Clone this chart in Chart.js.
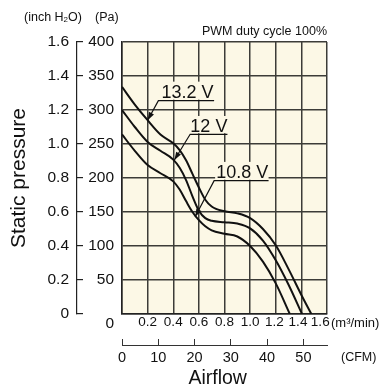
<!DOCTYPE html>
<html><head><meta charset="utf-8">
<script src="https://cdn.jsdelivr.net/npm/chart.js@4/dist/chart.umd.min.js"></script>
<style>html,body{margin:0;padding:0;background:#fff;}#wrap{width:391px;height:390px;}</style>
</head><body><div id="wrap"><canvas id="c" width="391" height="390"></canvas></div>
<script>
// ---- data ----
const flowTicks = [0, 0.2, 0.4, 0.6, 0.8, 1.0, 1.2, 1.4, 1.6];      // m3/min
const cfmTicks = [0, 10, 20, 30, 40, 50];                            // CFM
const paTicks = [0, 50, 100, 150, 200, 250, 300, 350, 400];          // Pa
const inchTicks = [0, 0.2, 0.4, 0.6, 0.8, 1.0, 1.2, 1.4, 1.6];       // inch H2O
const seriesNames = ['13.2 V', '12 V', '10.8 V'];

const flow132 = [0, 0.1, 0.2, 0.3, 0.4, 0.45, 0.5, 0.55, 0.6, 0.65, 0.7, 0.8, 0.9, 1.0, 1.1, 1.2, 1.3, 1.4, 1.478];
const pres132 = [334, 308, 285, 264, 251, 241, 226, 206, 186, 168, 158, 151, 148, 141, 125, 101, 66, 28, 0];

const flow120 = [0, 0.1, 0.2, 0.3, 0.4, 0.45, 0.5, 0.55, 0.6, 0.65, 0.7, 0.8, 0.9, 1.0, 1.1, 1.2, 1.3, 1.405];
const pres120 = [300, 275, 253, 240, 227, 215, 197, 173, 152, 141, 137, 135, 133, 126, 108, 79, 43, 0];

const flow108 = [0, 0.1, 0.2, 0.3, 0.4, 0.45, 0.5, 0.55, 0.6, 0.65, 0.7, 0.8, 0.9, 1.0, 1.1, 1.2, 1.31];
const pres108 = [264, 240, 219, 207, 195, 183, 166, 150, 138, 129, 123, 118, 114, 100, 77, 45, 0];

const CFM_PER_M3MIN = 35.3147;

// ---- styles ----
const SANS = '"Liberation Sans",Arial,sans-serif';
const BG = '#fcf8e6';
const INK = '#111';
const GRID = '#3c3c38';

const toPts = (xs, ys) => xs.map((x, i) => ({x: x, y: ys[i]}));
const series = [toPts(flow132, pres132), toPts(flow120, pres120), toPts(flow108, pres108)];

// curve callouts, in data coordinates (m3/min, Pa)
const callouts = [
  {text: seriesNames[0], tx: 0.512, ty: 327, ux0: 0.284, ux1: 0.719, uy: 313.7, ax: 0.2, ay: 285},
  {text: seriesNames[1], tx: 0.678, ty: 276.5, ux0: 0.532, ux1: 0.823, uy: 264.3, ax: 0.409, ay: 226.5},
  {text: seriesNames[2], tx: 0.938, ty: 209, ux0: 0.719, ux1: 1.144, uy: 196, ax: 0.571, ay: 143}
];

const bgPlugin = {
  id: 'bg',
  beforeDraw(chart) {
    const {ctx, chartArea: a} = chart;
    ctx.save();
    ctx.fillStyle = '#fff';
    ctx.fillRect(0, 0, chart.width, chart.height);
    ctx.fillStyle = BG;
    ctx.fillRect(a.left, a.top, a.right - a.left, a.bottom - a.top);
    ctx.restore();
  }
};

const calloutPlugin = {
  id: 'callouts',
  afterDatasetsDraw(chart) {
    const {ctx, scales} = chart;
    const X = v => scales.x.getPixelForValue(v);
    const Y = v => scales.y.getPixelForValue(v);
    ctx.save();
    ctx.font = '18px ' + SANS;
    for (const c of callouts) {
      const x0 = X(c.ux0), x1 = X(c.ux1), uy = Y(c.uy);
      const tx = X(c.tx), ty = Y(c.ty);
      ctx.fillStyle = BG;
      ctx.fillRect(x0 + 1, ty - 10, x1 - x0 - 1, uy - (ty - 10) - 1);
      ctx.fillStyle = INK;
      ctx.textAlign = 'center';
      ctx.textBaseline = 'middle';
      ctx.fillText(c.text, tx, ty + 1);
      ctx.strokeStyle = INK;
      ctx.lineWidth = 1.2;
      ctx.beginPath();
      ctx.moveTo(x1, uy); ctx.lineTo(x0, uy);
      const ax = X(c.ax), ay = Y(c.ay);
      ctx.lineTo(ax, ay);
      ctx.stroke();
      const ang = Math.atan2(ay - uy, ax - x0);
      const L = 8, W = 2.8;
      ctx.beginPath();
      ctx.moveTo(ax, ay);
      ctx.lineTo(ax - L * Math.cos(ang) + W * Math.sin(ang), ay - L * Math.sin(ang) - W * Math.cos(ang));
      ctx.lineTo(ax - L * Math.cos(ang) - W * Math.sin(ang), ay - L * Math.sin(ang) + W * Math.cos(ang));
      ctx.closePath();
      ctx.fill();
    }
    ctx.restore();
  },
  afterDraw(chart) {
    const {ctx, chartArea: a} = chart;
    ctx.save();
    ctx.fillStyle = INK;
    ctx.textBaseline = 'middle';
    ctx.textAlign = 'left';
    // unit header for the two pressure axes
    ctx.font = '12.5px ' + SANS;
    let x = 24;
    ctx.fillText('(inch H', x, 18);
    x += ctx.measureText('(inch H').width;
    ctx.font = '8px ' + SANS;
    ctx.fillText('2', x, 20);
    x += ctx.measureText('2').width;
    ctx.font = '12.5px ' + SANS;
    ctx.fillText('O)', x, 18);
    ctx.fillText('(Pa)', 95, 18);
    // condition note
    ctx.textAlign = 'right';
    ctx.fillText('PWM duty cycle 100%', a.right, 31.5);
    // flow units
    ctx.textAlign = 'left';
    ctx.font = '13px ' + SANS;
    ctx.fillText('(m\u00b3/min)', a.right + 4, 323);
    ctx.font = '12.5px ' + SANS;
    ctx.fillText('(CFM)', a.right + 14, 358);
    ctx.restore();
  }
};

const setTicks = arr => s => { s.ticks = arr.map(v => ({value: v})); };
const flowLabel = v => {
  if (v === 0) return '';
  if (v === 1.6) return v.toFixed(1) + '\u2003';
  if (v === 1.4) return v.toFixed(1) + '\u2002';
  if (v === 1.2) return v.toFixed(1) + '\u2009';
  return v.toFixed(1);
};

new Chart(document.getElementById('c'), {
  type: 'line',
  data: {
    datasets: series.map((pts, i) => ({
      label: seriesNames[i],
      data: pts,
      borderColor: INK,
      borderWidth: 2,
      pointRadius: 0,
      fill: false,
      cubicInterpolationMode: 'monotone'
    }))
  },
  options: {
    responsive: false,
    animation: false,
    layout: {padding: {top: 42, right: 64, left: 0, bottom: 0}},
    plugins: {legend: {display: false}, tooltip: {enabled: false}},
    scales: {
      x: {
        type: 'linear', position: 'bottom', min: 0, max: 1.6,
        afterBuildTicks: setTicks(flowTicks),
        ticks: {autoSkip: false, maxRotation: 0, padding: 0, color: INK,
          font: {family: SANS, size: 13.5},
          callback: flowLabel},
        grid: {color: GRID, lineWidth: 1.5, drawTicks: false},
        border: {color: '#222', width: 1.5},
        afterFit: s => { s.height = 31; }
      },
      xCfm: {
        type: 'linear', position: 'bottom', min: 0, max: 1.6 * CFM_PER_M3MIN,
        afterBuildTicks: setTicks(cfmTicks),
        ticks: {autoSkip: false, maxRotation: 0, padding: 10, color: INK,
          font: {family: SANS, size: 14.5},
          callback: v => String(v)},
        grid: {drawOnChartArea: false, drawTicks: true, tickLength: -6, color: '#333', lineWidth: 1},
        border: {display: true, color: '#333', width: 1},
        title: {display: true, text: 'Airflow\u2002\u2009', color: INK,
          font: {family: SANS, size: 19.5}, padding: {top: 0, bottom: 0}},
        afterFit: s => { s.height = 45; }
      },
      y: {
        type: 'linear', position: 'left', min: 0, max: 400,
        afterBuildTicks: setTicks(paTicks),
        ticks: {autoSkip: false, padding: 8, color: INK,
          font: {family: SANS, size: 15.5},
          callback: v => v === 0 ? ['', '0'] : String(v)},
        grid: {color: GRID, lineWidth: 1.5, drawTicks: false},
        border: {color: '#222', width: 1.5},
        afterFit: s => { s.width = 45; }
      },
      yInch: {
        type: 'linear', position: 'left', min: 0, max: 1.6,
        afterBuildTicks: setTicks(inchTicks),
        ticks: {autoSkip: false, padding: 14, color: INK,
          font: {family: SANS, size: 15.5},
          callback: v => v === 0 ? '0' : v.toFixed(1)},
        grid: {drawOnChartArea: false, drawTicks: true, tickLength: -6, color: '#222', lineWidth: 1.2},
        border: {display: true, color: '#222', width: 1.2},
        title: {display: true, text: 'Static pressure', color: INK,
          font: {family: SANS, size: 21}, padding: {top: 7, bottom: 0}},
        afterFit: s => { s.width = 77; }
      }
    }
  },
  plugins: [bgPlugin, calloutPlugin]
});
</script>
</body></html>
